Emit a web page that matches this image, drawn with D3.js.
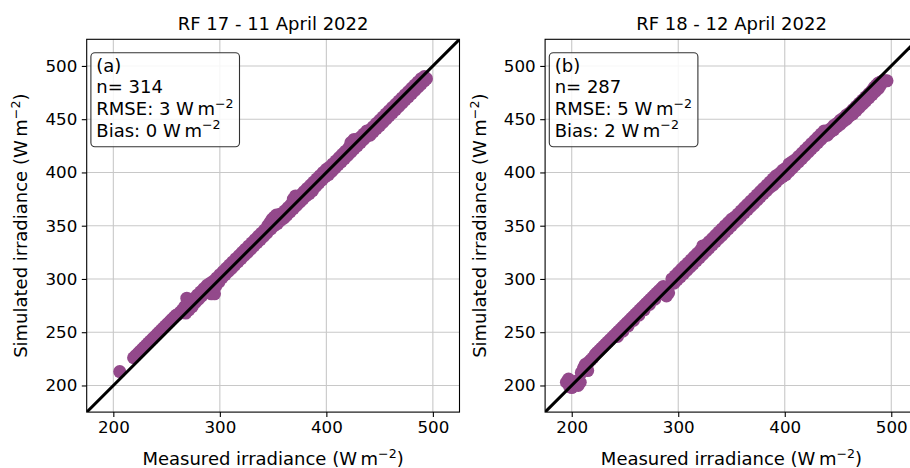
<!DOCTYPE html>
<html>
<head>
<meta charset="utf-8">
<script src="https://cdn.jsdelivr.net/npm/d3@7"></script>
<style>
  body { margin: 0; background: #fff; }
  svg { font-family: "DejaVu Sans", sans-serif; }
</style>
</head>
<body>
<svg id="chart" width="910" height="468"></svg>
<script>
// RF 17 - 11 April 2022: [measured, simulated]
const rf17Points = [
  [206,213],[219,226],[221,228],[223,230],[225,232],[227,234],[229,236],[231,238],
  [233,240],[235,242],[237,244],[239,246],[241,248],[243,250],[245,252],[247,254],
  [249,256],[251,258],[253,260],[255,262],[257,264],[259,266],[261,267],[263,269],
  [265,271],
  [267,274],[269,282],[270,276],[273,279],[276,282],[279,285],[282,288],[285,291],
  [288,294],[291,296],[294,298],[297,301],[300,304],
  [268,268],[271,271],[274,274],[277,278],[280,281],[283,284],[286,287],[289,289],
  [292,286],[295,286],[296,293],[299,297],
  [303,307],[306,310],[309,313],[312,316],[315,319],[318,322],[321,325],[324,328],
  [327,331],[330,334],[333,337],[336,340],[339,343],[342,346],[345,350],
  [302,301],[305,304],[308,307],[311,310],[314,313],[317,316],[320,319],[323,322],
  [326,325],[329,328],[332,331],[335,334],[338,337],[341,340],[344,343],
  [347,353],[349,356],[351,358],[353,360],[355,360],[357,361],[348,347],[351,350],
  [354,352],[357,355],[359,358],
  [361,364],[364,367],[367,370],[369,375],[371,378],[373,377],[376,379],[379,382],
  [382,385],[385,388],[388,391],[391,394],[394,397],[397,400],[400,403],
  [360,357],[363,360],[366,363],[369,366],[372,369],[375,372],[378,375],[381,378],
  [384,380],[387,383],[390,387],[393,390],[396,393],[399,396],
  [403,405],[406,408],[409,411],[412,414],[415,417],[418,420],[421,423],[423,428],
  [426,431],[429,431],[432,433],[435,436],[438,439],
  [441,440],[444,443],[447,446],[450,449],[453,452],[456,455],[459,458],[462,461],
  [465,464],[468,467],[471,470],[474,473],[477,476],[480,479],[483,482],[486,485],
  [489,488],[492,490],
  [402,398],[405,401],[408,404],[411,407],[414,410],[417,413],[420,416],[423,419],
  [426,422],[429,425],[432,428],[435,431],[438,434],[441,435],[444,438],[447,441],
  [450,444],[453,447],[456,450],[459,453],[462,456],[465,459],[468,462],[471,465],
  [474,468],[477,471],[480,474],[483,477],[486,480],[489,483],[492,486],[494,488]
];

// RF 18 - 12 April 2022: [measured, simulated]
const rf18Points = [
  [195,203],[197,206],[198,199],[200,198],[202,201],[204,204],[206,200],[208,203],
  [209,212],[211,216],[212,218],[213,220],[215,214],[216,222],[218,224],
  [220,226],[222,229],[224,231],[226,233],[228,235],[230,237],[232,239],[234,241],
  [236,243],[238,245],[240,247],[242,249],[244,251],[246,253],[248,255],[250,257],
  [252,259],[254,261],[256,263],[258,265],[260,267],[262,269],[264,271],[266,273],
  [268,275],[270,277],[272,279],[274,281],[276,283],[278,285],[280,287],[282,289],
  [284,291],[286,293],
  [243,246],[248,251],[253,256],[258,261],[263,266],[268,271],[273,276],[278,281],
  [283,286],[289,284],[291,287],
  [294,300],[297,303],[300,306],[303,309],[306,312],[309,315],[312,318],[315,321],
  [318,324],[321,327],[323,331],[326,332],[329,335],[332,338],[335,341],[338,344],
  [341,347],[344,350],[347,353],[350,356],[353,358],[356,361],[359,364],[362,367],
  [365,370],[368,373],[371,376],[374,379],[377,382],[380,385],[383,388],[386,391],
  [389,394],[392,397],[395,399],[398,402],
  [296,296],[299,299],[302,302],[305,305],[308,308],[311,311],[314,314],[317,317],
  [320,320],[323,323],[326,326],[329,329],[332,332],[335,335],[338,338],[341,341],
  [344,344],[347,347],[350,350],[353,353],[356,356],[359,359],[362,362],[365,365],
  [368,368],[371,371],[374,374],[377,377],[380,380],[383,383],[386,386],[389,388],
  [392,391],[395,394],[398,396],
  [401,404],[404,408],[407,410],[410,412],[413,415],[416,418],[419,421],[422,424],
  [425,427],[428,430],[431,433],[434,436],[437,439],
  [401,398],[404,401],[407,404],[410,407],[413,410],[416,413],[419,416],[422,419],
  [425,422],[428,425],[431,428],[434,431],[437,434],
  [440,439],[443,441],[446,444],[449,446],[452,449],[455,451],[458,454],[461,456],
  [464,459],[467,462],[470,465],[473,468],[476,471],[479,474],[482,477],[484,480],
  [486,482],[488,484],
  [440,435],[443,438],[446,440],[449,443],[452,445],[455,448],[458,450],[461,453],
  [464,455],[467,458],[470,461],[473,464],[476,467],[479,470],[482,473],[485,476],
  [488,479],[490,482],
  [490,485],[492,486],[494,486],[496,486]
];

const panelTitles = ["RF 17 - 11 April 2022", "RF 18 - 12 April 2022"];
const panelStats = [
  { tag: "(a)", n: 314, rmse: 3, bias: 0 },
  { tag: "(b)", n: 287, rmse: 5, bias: 2 }
];
const axisDomain = [175, 525];
const tickValues = [200, 300, 400, 500];
const yTickValues = [200, 250, 300, 350, 400, 450, 500];

const svg = d3.select("#chart");
const panelLeft = [86.7, 545.1];
const panelTop = 39.3;
const size = 372.8;
const tickFont = 16.7;
const labelFont = 18;
const pointColor = "#93498b";

function unitLabel(sel, prefix) {
  sel.append("tspan").text(prefix + "(W\u2009m");
  sel.append("tspan").attr("dy", -7.5).attr("font-size", labelFont * 0.7).text("\u22122");
  sel.append("tspan").attr("dy", 7.5).text(")");
}

[rf17Points, rf18Points].forEach((points, i) => {
  const g = svg.append("g").attr("transform", `translate(${panelLeft[i]},${panelTop})`);
  const x = d3.scaleLinear().domain(axisDomain).range([0, size]);
  const y = d3.scaleLinear().domain(axisDomain).range([size, 0]);

  const clipId = `clip-${i}`;
  g.append("clipPath").attr("id", clipId)
    .append("rect").attr("width", size).attr("height", size);

  // grid
  g.append("g").selectAll("line").data(tickValues).join("line")
    .attr("x1", d => x(d)).attr("x2", d => x(d))
    .attr("y1", 0).attr("y2", size)
    .attr("stroke", "#c8c8c8").attr("stroke-width", 1.1);
  g.append("g").selectAll("line").data(yTickValues).join("line")
    .attr("y1", d => y(d)).attr("y2", d => y(d))
    .attr("x1", 0).attr("x2", size)
    .attr("stroke", "#c8c8c8").attr("stroke-width", 1.1);

  const plot = g.append("g").attr("clip-path", `url(#${clipId})`);
  plot.selectAll("circle").data(points).join("circle")
    .attr("cx", d => x(d[0])).attr("cy", d => y(d[1]))
    .attr("r", 6.5).attr("fill", pointColor);

  plot.append("line")
    .attr("x1", x(axisDomain[0])).attr("y1", y(axisDomain[0]))
    .attr("x2", x(axisDomain[1])).attr("y2", y(axisDomain[1]))
    .attr("stroke", "#000").attr("stroke-width", 3);

  // axes
  const xAxis = g.append("g").attr("transform", `translate(0,${size})`)
    .call(d3.axisBottom(x).tickValues(tickValues).tickSizeOuter(0).tickSize(4.9).tickPadding(4.5));
  const yAxis = g.append("g")
    .call(d3.axisLeft(y).tickValues(yTickValues).tickSizeOuter(0).tickSize(4.9).tickPadding(4.5));
  [xAxis, yAxis].forEach(a => {
    a.select(".domain").remove();
    a.selectAll("text").attr("font-size", tickFont).attr("font-family", "DejaVu Sans").attr("fill", "#000");
    a.selectAll("line").attr("stroke", "#000").attr("stroke-width", 1.1);
  });

  g.append("rect").attr("width", size).attr("height", size)
    .attr("fill", "none").attr("stroke", "#000").attr("stroke-width", 1.1);

  // title and labels
  g.append("text").attr("x", size / 2).attr("y", 30 - panelTop)
    .attr("text-anchor", "middle").attr("font-size", labelFont).text(panelTitles[i]);

  g.append("text").attr("x", size / 2).attr("y", 465.5 - panelTop)
    .attr("text-anchor", "middle").attr("font-size", labelFont)
    .call(unitLabel, "Measured irradiance ");

  g.append("text")
    .attr("transform", `translate(${(i === 0 ? 27.5 : 486.5) - panelLeft[i]},${size / 2}) rotate(-90)`)
    .attr("text-anchor", "middle").attr("font-size", labelFont)
    .call(unitLabel, "Simulated irradiance ");

  // stats box
  const s = panelStats[i];
  g.append("rect").attr("x", 4.2).attr("y", 13.4).attr("width", 148.6).attr("height", 94)
    .attr("rx", 4).attr("fill", "#fff").attr("fill-opacity", 0.85)
    .attr("stroke", "#333").attr("stroke-width", 1.1);
  const lines = [
    [s.tag, false],
    [`n= ${s.n}`, false],
    [`RMSE: ${s.rmse} `, true],
    [`Bias: ${s.bias} `, true]
  ];
  lines.forEach(([txt, unit], k) => {
    const t = g.append("text").attr("x", 9.6).attr("y", 32.4 + k * 21.7)
      .attr("font-size", labelFont);
    t.append("tspan").text(txt);
    if (unit) {
      t.append("tspan").text("W\u2009m");
      t.append("tspan").attr("dy", -7.5).attr("font-size", labelFont * 0.7).text("\u22122");
    }
  });
});
</script>
</body>
</html>
